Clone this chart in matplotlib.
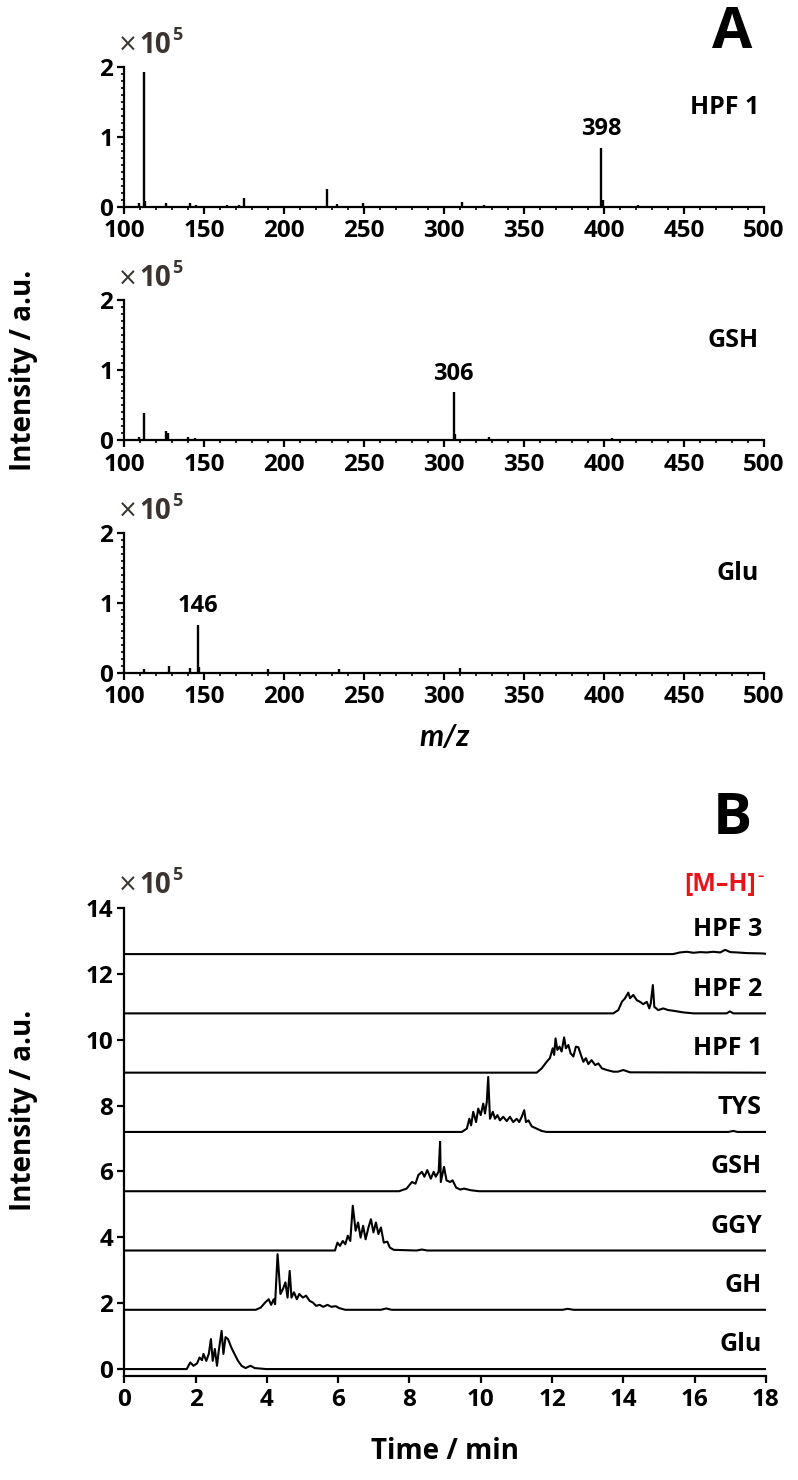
import matplotlib
matplotlib.use('Agg')
import matplotlib.pyplot as plt
import matplotlib.transforms as mtransforms
from matplotlib.ticker import MultipleLocator

plt.rcParams['font.family'] = ['Open Sans', 'DejaVu Sans']
plt.rcParams['font.weight'] = 'bold'

# ---- panel A: mass spectra (intensity x1e5) ----
spec_names = ['HPF 1', 'GSH', 'Glu']
spec_mz = [
    [109, 112, 113, 126, 141, 145, 164, 172, 175, 227, 233, 249, 311, 325, 398, 399.5, 421],
    [109, 112.5, 126, 127.5, 140, 144, 160, 171, 190, 306, 307, 328, 405],
    [112, 128, 141, 146, 147, 165, 190, 234, 310],
]
spec_int = [
    [0.05, 1.93, 0.08, 0.05, 0.05, 0.03, 0.03, 0.02, 0.13, 0.26, 0.04, 0.05, 0.07, 0.03, 0.84, 0.10, 0.02],
    [0.05, 0.38, 0.13, 0.10, 0.04, 0.03, 0.02, 0.02, 0.02, 0.68, 0.08, 0.05, 0.03],
    [0.05, 0.10, 0.07, 0.69, 0.08, 0.02, 0.05, 0.05, 0.07],
]
spec_main = [398, 306, 146]
spec_main_int = [0.84, 0.68, 0.69]

# ---- panel B: extracted ion chromatograms (intensity x1e5, above baseline) ----
chrom_names = ['Glu', 'GH', 'GGY', 'GSH', 'TYS', 'HPF 1', 'HPF 2', 'HPF 3']
chrom_offset = [0.0, 1.8, 3.6, 5.4, 7.2, 9.0, 10.8, 12.6]

glu_t = [0, 1.75, 1.85, 1.94, 2.04, 2.11, 2.18, 2.22, 2.30, 2.37, 2.43, 2.48, 2.54, 2.60, 2.65,
         2.73, 2.78, 2.84, 2.91, 3.00, 3.09, 3.19, 3.29, 3.40, 3.54, 3.66, 3.98, 18]
glu_y = [0, 0, 0.20, 0.10, 0.17, 0.35, 0.27, 0.46, 0.25, 0.46, 0.91, 0.25, 0.61, 0.10, 0.56,
         1.16, 0.46, 0.97, 0.91, 0.66, 0.46, 0.25, 0.10, 0.03, 0.10, 0.03, 0, 0]

gh_t = [0, 3.69, 3.83, 3.95, 4.05, 4.12, 4.19, 4.23, 4.30, 4.38, 4.45, 4.52, 4.58, 4.64, 4.69,
        4.76, 4.84, 4.91, 5.01, 5.10, 5.20, 5.29, 5.38, 5.48, 5.58, 5.70, 5.81, 5.93, 6.03, 6.20,
        7.2, 7.35, 7.5, 12.3, 12.44, 12.6, 18]
gh_y = [0, 0, 0.07, 0.22, 0.32, 0.15, 0.32, 0.17, 1.69, 0.48, 0.63, 0.83, 0.37, 1.18, 0.37,
        0.53, 0.32, 0.48, 0.37, 0.43, 0.27, 0.22, 0.12, 0.15, 0.09, 0.15, 0.09, 0.11, 0.05, 0,
        0, 0.04, 0, 0, 0.03, 0, 0]

ggy_t = [0, 5.91, 5.98, 6.05, 6.13, 6.20, 6.27, 6.34, 6.41, 6.49, 6.56, 6.63, 6.70, 6.77, 6.85,
         6.92, 6.99, 7.06, 7.13, 7.20, 7.28, 7.38, 7.45, 7.56, 8.2, 8.35, 8.5, 18]
ggy_y = [0, 0, 0.24, 0.14, 0.29, 0.19, 0.45, 0.29, 1.36, 0.60, 0.85, 0.39, 0.75, 0.34, 0.70,
         0.95, 0.55, 0.85, 0.50, 0.70, 0.24, 0.27, 0.09, 0.02, 0, 0.03, 0, 0]

gsh_t = [0, 7.71, 7.92, 8.07, 8.17, 8.25, 8.35, 8.42, 8.50, 8.60, 8.68, 8.74, 8.82, 8.86, 8.88,
         8.97, 9.04, 9.14, 9.21, 9.31, 9.43, 9.53, 9.72, 9.95, 18]
gsh_y = [0, 0, 0.08, 0.28, 0.23, 0.49, 0.59, 0.44, 0.64, 0.38, 0.59, 0.44, 0.60, 1.50, 0.28,
         0.74, 0.33, 0.28, 0.33, 0.11, 0.05, 0.08, 0.03, 0, 0]

tys_t = [0, 9.47, 9.61, 9.68, 9.73, 9.79, 9.87, 9.93, 10.00, 10.07, 10.12, 10.17, 10.21, 10.26,
         10.34, 10.40, 10.47, 10.54, 10.63, 10.73, 10.82, 10.91, 11.01, 11.08, 11.15, 11.22,
         11.27, 11.34, 11.43, 11.57, 11.71, 11.85, 16.95, 17.09, 17.2, 18]
tys_y = [0, 0, 0.10, 0.40, 0.20, 0.61, 0.30, 0.71, 0.51, 0.86, 0.56, 0.91, 1.67, 0.40,
         0.61, 0.40, 0.51, 0.35, 0.46, 0.33, 0.46, 0.30, 0.40, 0.30, 0.46, 0.66,
         0.30, 0.35, 0.17, 0.10, 0.03, 0, 0, 0.03, 0, 0]

hpf1_t = [0, 11.57, 11.71, 11.85, 11.94, 12.02, 12.06, 12.10, 12.15, 12.21, 12.27, 12.34, 12.39,
          12.46, 12.52, 12.60, 12.67, 12.74, 12.81, 12.88, 12.95, 13.02, 13.11, 13.21, 13.30,
          13.40, 13.54, 13.72, 13.85, 14.00, 14.19, 18]
hpf1_y = [0, 0, 0.13, 0.33, 0.44, 0.74, 0.54, 1.04, 0.69, 0.79, 0.64, 1.07, 0.74,
          0.84, 0.59, 0.49, 0.79, 0.77, 0.54, 0.33, 0.44, 0.26, 0.38, 0.23, 0.28,
          0.13, 0.08, 0.03, 0.03, 0.08, 0.01, 0]

hpf2_t = [0, 13.72, 13.86, 13.96, 14.05, 14.14, 14.19, 14.28, 14.38, 14.47, 14.56, 14.66, 14.73,
          14.77, 14.83, 14.87, 14.98, 15.12, 15.26, 15.40, 15.68, 15.97, 16.9, 16.99, 17.09, 18]
hpf2_y = [0, 0, 0.10, 0.35, 0.46, 0.63, 0.46, 0.56, 0.40, 0.35, 0.28, 0.35, 0.15,
          0.30, 0.86, 0.20, 0.10, 0.15, 0.10, 0.08, 0.03, 0, 0, 0.06, 0, 0]

hpf3_t = [0, 15.40, 15.59, 15.78, 15.97, 16.16, 16.34, 16.53, 16.72, 16.86, 17.00, 17.19,
          17.47, 17.89, 18]
hpf3_y = [0, 0, 0.05, 0.07, 0.04, 0.06, 0.05, 0.07, 0.05, 0.13, 0.06, 0.05,
          0.03, 0.02, 0.01]

chrom_t = [glu_t, gh_t, ggy_t, gsh_t, tys_t, hpf1_t, hpf2_t, hpf3_t]
chrom_y = [glu_y, gh_y, ggy_y, gsh_y, tys_y, hpf1_y, hpf2_y, hpf3_y]

TICK_FS = 17.5
GREY = '#3a3330'

fig = plt.figure(figsize=(7.98, 14.8), dpi=100)


def style_axes(ax):
    for s in ['top', 'right']:
        ax.spines[s].set_visible(False)
    for s in ['left', 'bottom']:
        ax.spines[s].set_linewidth(1.6)
    ax.tick_params(which='major', direction='out', length=5, width=1.6,
                   labelsize=TICK_FS)
    ax.tick_params(axis='x', which='major', pad=4)
    ax.tick_params(axis='y', which='major', pad=3)
    ax.tick_params(which='minor', direction='out', length=2.5, width=1.2)
    for lab in ax.get_xticklabels() + ax.get_yticklabels():
        lab.set_fontweight('bold')


def sci_label(ax, y):
    trans = ax.transAxes
    scale = 0.0946 / ax.get_position().height
    ax.text(-0.010, y, '×', transform=trans, fontsize=17, color=GREY,
            family=['DejaVu Sans'], fontweight='normal', ha='left', va='center')
    ax.text(0.024, y, '10', transform=trans, fontsize=20, color=GREY,
            fontweight='bold', ha='left', va='center')
    ax.text(0.074, y + 0.07 * scale, '5', transform=trans, fontsize=13, color=GREY,
            fontweight='bold', ha='left', va='center')


# panel A axes
a_bottoms = [0.8603, 0.7027, 0.5453]
for i in range(3):
    ax = fig.add_axes([0.1558, a_bottoms[i], 0.8016, 0.0946])
    ax.plot([100, 500], [0, 0], color='k', lw=1.3)
    ax.vlines(spec_mz[i], 0, spec_int[i], color='k', lw=1.7)
    ax.set_xlim(100, 500)
    ax.set_ylim(0, 2)
    ax.xaxis.set_major_locator(MultipleLocator(50))
    ax.xaxis.set_minor_locator(MultipleLocator(10))
    ax.yaxis.set_major_locator(MultipleLocator(1))
    ax.yaxis.set_minor_locator(MultipleLocator(0.1))
    style_axes(ax)
    ax.text(spec_main[i], spec_main_int[i] + 0.27, str(spec_main[i]),
            fontsize=17, fontweight='bold', ha='center', va='center')
    trans = mtransforms.blended_transform_factory(ax.transAxes, ax.transData)
    ax.text(0.992, 1.42, spec_names[i], transform=trans,
            fontsize=18, fontweight='bold', ha='right', va='center')
    sci_label(ax, 1.155)
    if i == 2:
        ax.set_xlabel('m/z', fontsize=22, fontstyle='italic', fontweight='bold',
                      labelpad=10, family=['Lato', 'DejaVu Sans'])

fig.text(0.030, 1 - 370 / 1480, 'Intensity / a.u.', rotation=90, fontsize=20,
         fontweight='bold', ha='center', va='center')
fig.text(0.918, 1 - 33 / 1480, 'A', fontsize=42,
         fontweight='bold', ha='center', va='center')

# panel B axes
axb = fig.add_axes([0.1558, 0.0705, 0.8039, 0.316])
for t, y, off in zip(chrom_t, chrom_y, chrom_offset):
    axb.plot(t, [off + v for v in y], color='k', lw=1.5)
axb.set_xlim(0, 18)
axb.set_ylim(-0.2, 14)
axb.xaxis.set_major_locator(MultipleLocator(2))
axb.yaxis.set_major_locator(MultipleLocator(2))
style_axes(axb)
transb = mtransforms.blended_transform_factory(axb.transAxes, axb.transData)
for name, off in zip(chrom_names, chrom_offset):
    axb.text(0.994, off + 0.74, name, transform=transb,
             fontsize=18, fontweight='bold', ha='right', va='center')
axb.text(0.985, 14.7, '[M\u2013H]', transform=transb,
         fontsize=18, fontweight='bold', color='#e8141c', ha='right', va='center')
axb.text(0.987, 14.95, '\u2013', transform=transb,
         fontsize=9, fontweight='bold', color='#e8141c', ha='left', va='center')
axb.set_xlabel('Time / min', fontsize=20, fontweight='bold', labelpad=18)
sci_label(axb, 1.049)
fig.text(0.918, 1 - 819 / 1480, 'B', fontsize=42,
         fontweight='bold', ha='center', va='center')
fig.text(0.030, 1 - 1110 / 1480, 'Intensity / a.u.', rotation=90, fontsize=20,
         fontweight='bold', ha='center', va='center')

fig.savefig('out.png', dpi=100)
